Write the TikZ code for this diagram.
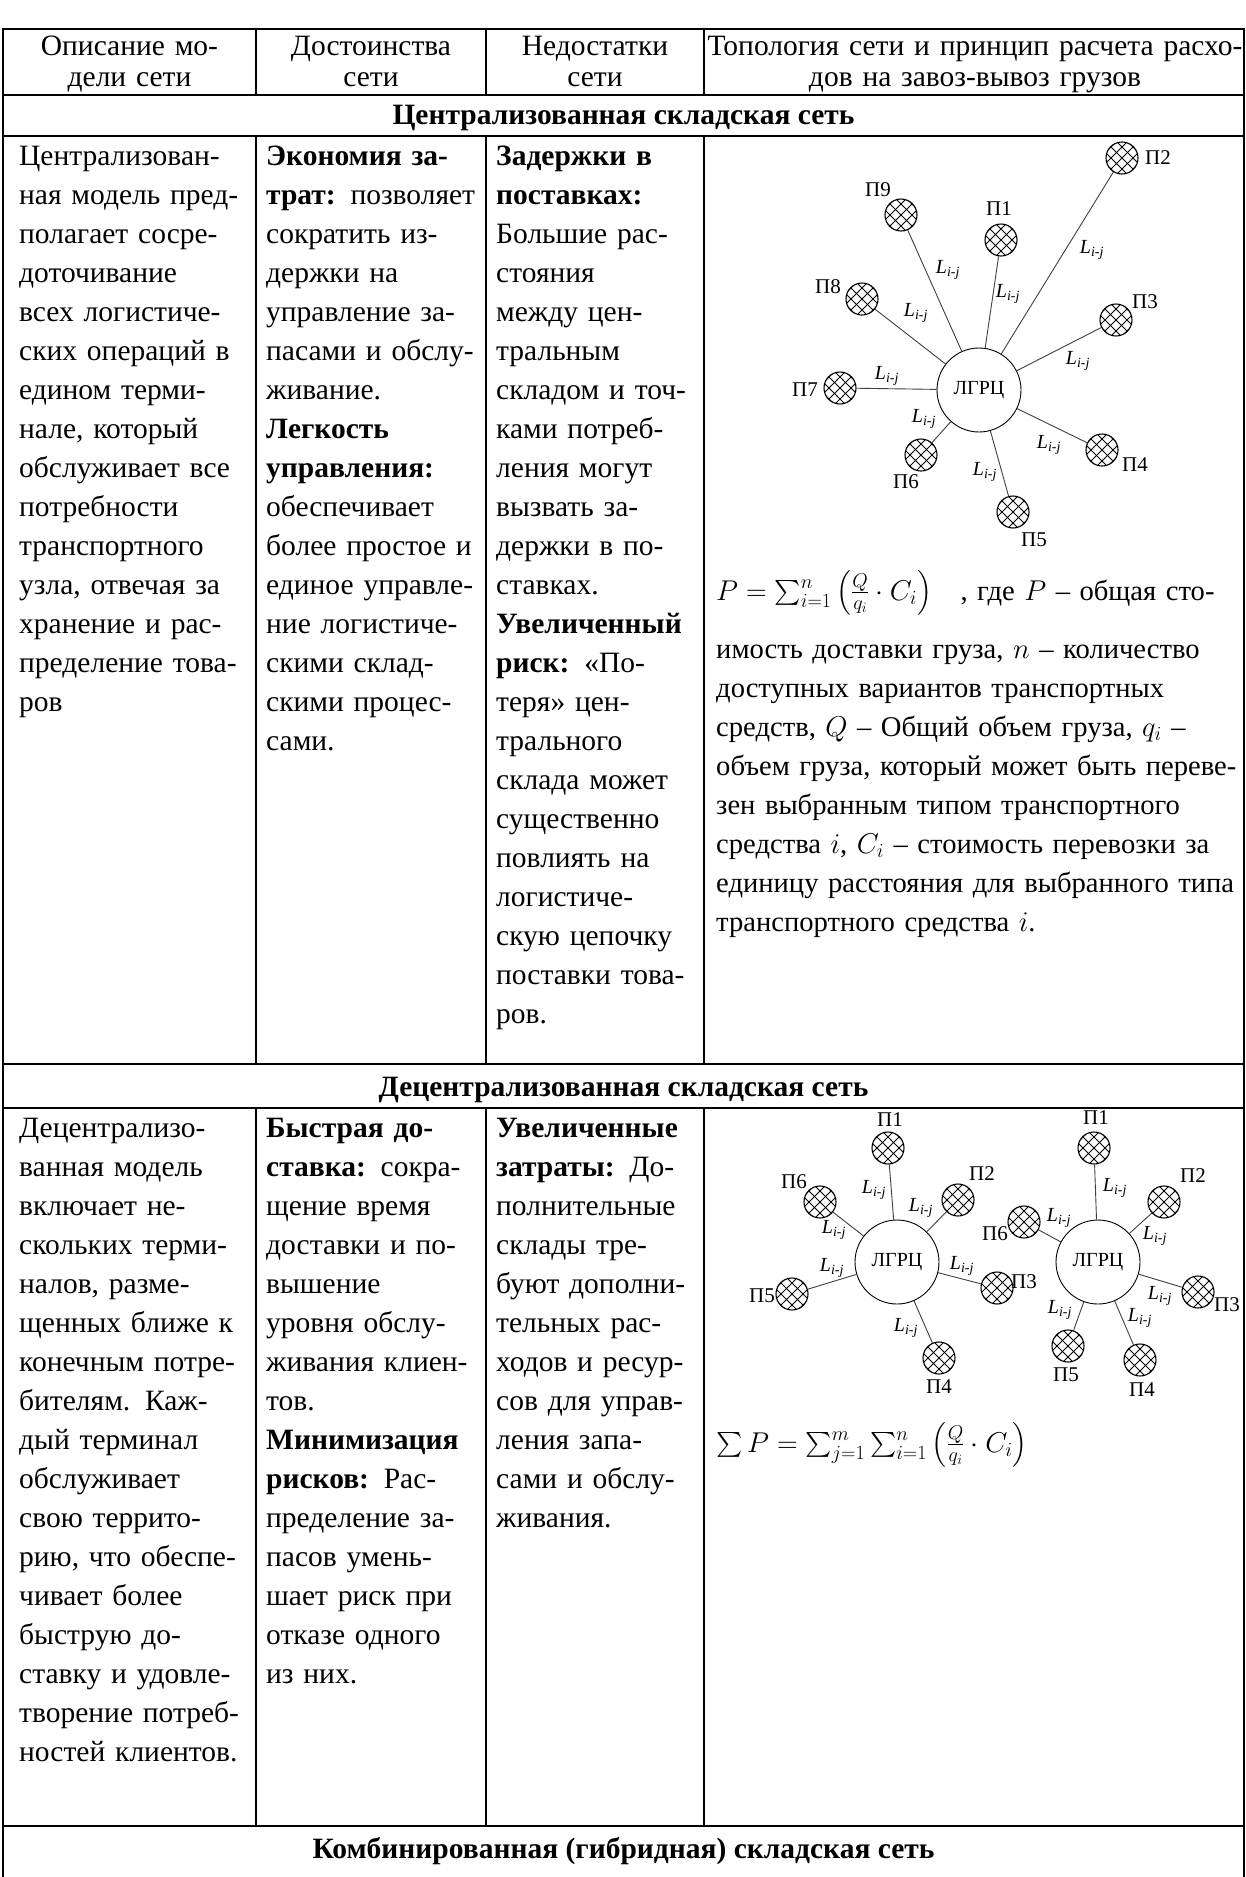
\RequirePackage{fix-cm}
\documentclass[tikz,border=0pt]{standalone}
\usepackage{amsmath}
\usepackage{fontspec}
\setmainfont{Liberation Serif}
\newcommand\J[1]{\makebox[\linewidth][s]{#1}}
\begin{document}
\begin{tikzpicture}[x=1pt,y=-1pt,
  hrule/.style={line width=2.8pt},
  vrule/.style={line width=1.8pt},
  cell/.style={anchor=base west, inner sep=0pt, align=left, font=\fontsize{29.5}{39}\selectfont},
  widecell/.style={cell, font=\fontsize{28.6}{39}\selectfont},
  headcell/.style={anchor=base, inner sep=0pt, align=center, font=\fontsize{29.5}{31}\selectfont},
  sectitle/.style={anchor=base, inner sep=0pt, font=\fontsize{29.5}{31}\selectfont\bfseries},
  hub/.style={circle, draw, line width=0.9pt, minimum size=84pt, inner sep=0pt, font=\fontsize{20}{20}\selectfont},
  pnode/.style={circle, draw, line width=1.1pt, minimum size=32pt, inner sep=0pt,
    path picture={
      \foreach \k in {-44,-33,...,44}{
        \draw[line width=0.8pt] ([shift={(\k-24,-24)}]path picture bounding box.center) -- ++(48,48);
        \draw[line width=0.8pt] ([shift={(\k+24,-24)}]path picture bounding box.center) -- ++(-48,48);
      }}},
  plabel/.style={inner sep=0pt, font=\fontsize{21}{21}\selectfont},
  llabel/.style={inner sep=0pt, font=\fontsize{20}{20}\selectfont\itshape},
  link/.style={draw=black!75, line width=0.9pt}
]
\useasboundingbox (0,0) rectangle (1246,1877);
\fill[white] (0,0) rectangle (1246,1877);

% ---------- table rules ----------
\foreach \yy in {29,95,136,1064,1108,1826}
  \draw[hrule] (2,\yy) -- (1245,\yy);
\draw[vrule] (3,28) -- (3,1877);
\draw[vrule] (1244,28) -- (1244,1877);
\foreach \xx in {256,486,704}{
  \draw[vrule] (\xx,29) -- (\xx,95);
  \draw[vrule] (\xx,136) -- (\xx,1064);
  \draw[vrule] (\xx,1108) -- (\xx,1826);
}

% ---------- header ----------
\node[headcell, text width=245pt] (h1) at (129.5,55) {Описание мо-\\дели сети};
\node[headcell, text width=225pt] (h2) at (371,55) {Достоинства\\сети};
\node[headcell, text width=212pt] (h3) at (595,55) {Недостатки\\сети};
\node[headcell, text width=560pt] (h4) at (975,55) {Топология сети и принцип расчета расхо-\\дов на завоз-вывоз грузов};

\node[sectitle] (s1) at (623.5,124) {Централизованная складская сеть};
\node[sectitle] (s2) at (623.5,1096) {Децентрализованная складская сеть};
\node[sectitle] (s3) at (623.5,1858) {Комбинированная (гибридная) складская сеть};

% ---------- centralized network: text ----------
\node[cell, text width=222pt] (a1) at (19,165) {%
Централизован-\\
\J{ная модель пред-}\\
\J{полагает сосре-}\\
доточивание\\
\J{всех логистиче-}\\
\J{ских операций в}\\
\J{едином терми-}\\
\J{нале, который}\\
\J{обслуживает все}\\
потребности\\
транспортного\\
\J{узла, отвечая за}\\
\J{хранение и рас-}\\
\J{пределение това-}\\
ров};

\node[cell, text width=207pt] (a2) at (266,165) {%
\J{\textbf{Экономия за-}}\\
\J{\textbf{трат:} позволяет}\\
\J{сократить из-}\\
\J{держки на}\\
\J{управление за-}\\
\J{пасами и обслу-}\\
живание.\\
\textbf{Легкость}\\
\textbf{управления:}\\
обеспечивает\\
\J{более простое и}\\
\J{единое управле-}\\
\J{ние логистиче-}\\
\J{скими склад-}\\
\J{скими процес-}\\
сами.};

\node[cell, text width=205pt] (a3) at (496,165) {%
\textbf{Задержки в}\\
\textbf{поставках:}\\
Большие рас-\\
стояния\\
между цен-\\
тральным\\
складом и точ-\\
ками потреб-\\
ления могут\\
вызвать за-\\
держки в по-\\
ставках.\\
\textbf{Увеличенный}\\
\textbf{риск:} «По-\\
теря» цен-\\
трального\\
склада может\\
существенно\\
повлиять на\\
логистиче-\\
скую цепочку\\
поставки това-\\
ров.};

% ---------- centralized network: star ----------
\node[hub] (c) at (979,390) {ЛГРЦ};
\node[pnode] (p1) at (1001,240) {};
\node[pnode] (p2) at (1122,158) {};
\node[pnode] (p3) at (1116,320) {};
\node[pnode] (p4) at (1102,450) {};
\node[pnode] (p5) at (1013,512) {};
\node[pnode] (p6) at (921,455) {};
\node[pnode] (p7) at (840,388) {};
\node[pnode] (p8) at (862,299) {};
\node[pnode] (p9) at (901,215) {};
\foreach \i in {1,...,9} \draw[link] (c) -- (p\i);
\node[plabel] (lp1) at (999,209) {П1};
\node[plabel] (lp2) at (1158,158) {П2};
\node[plabel] (lp3) at (1145,302) {П3};
\node[plabel] (lp4) at (1135,465) {П4};
\node[plabel] (lp5) at (1034,540) {П5};
\node[plabel] (lp6) at (906,482) {П6};
\node[plabel] (lp7) at (805,390) {П7};
\node[plabel] (lp8) at (828,287) {П8};
\node[plabel] (lp9) at (878,190) {П9};
\node[llabel] (e9) at (948,270) {L\textsubscript{i-j}};
\node[llabel] (e1) at (1008,294) {L\textsubscript{i-j}};
\node[llabel] (e2) at (1092,250) {L\textsubscript{i-j}};
\node[llabel] (e8) at (916,313) {L\textsubscript{i-j}};
\node[llabel] (e3) at (1078,361) {L\textsubscript{i-j}};
\node[llabel] (e7) at (887,376) {L\textsubscript{i-j}};
\node[llabel] (e6) at (924,419) {L\textsubscript{i-j}};
\node[llabel] (e4) at (1049,445) {L\textsubscript{i-j}};
\node[llabel] (e5) at (985,472) {L\textsubscript{i-j}};

% ---------- centralized network: cost formula ----------
\node[widecell, text width=524pt] (f1) at (716,600) {%
\J{\mbox{$P=\sum_{i=1}^{n}\left(\frac{Q}{q_i}\cdot C_i\right)$}\ \ \ , где $P$ – общая сто-}};
\node[widecell, text width=524pt] (t1) at (716,658) {%
\J{имость доставки груза, $n$ – количество}\\
\J{доступных вариантов транспортных}\\
\J{средств, $Q$ – Общий объем груза, $q_i$ –}\\
\J{объем груза, который может быть переве-}\\
\J{зен выбранным типом транспортного}\\
\J{средства $i$, $C_i$ – стоимость перевозки за}\\
\J{единицу расстояния для выбранного типа}\\
транспортного средства $i$.};

% ---------- decentralized network: text ----------
\node[cell, text width=222pt] (b1) at (19,1137) {%
Децентрализо-\\
\J{ванная модель}\\
\J{включает не-}\\
\J{скольких терми-}\\
\J{налов, разме-}\\
\J{щенных ближе к}\\
\J{конечным потре-}\\
\J{бителям. Каж-}\\
\J{дый терминал}\\
обслуживает\\
\J{свою террито-}\\
\J{рию, что обеспе-}\\
\J{чивает более}\\
\J{быструю до-}\\
\J{ставку и удовле-}\\
\J{творение потреб-}\\
ностей клиентов.};

\node[cell, text width=207pt] (b2) at (266,1137) {%
\J{\textbf{Быстрая до-}}\\
\J{\textbf{ставка:} сокра-}\\
\J{щение время}\\
\J{доставки и по-}\\
вышение\\
\J{уровня обслу-}\\
\J{живания клиен-}\\
тов.\\
\textbf{Минимизация}\\
\J{\textbf{рисков:} Рас-}\\
\J{пределение за-}\\
\J{пасов умень-}\\
\J{шает риск при}\\
\J{отказе одного}\\
из них.};

\node[cell, text width=196pt] (b3) at (496,1137) {%
\textbf{Увеличенные}\\
\J{\textbf{затраты:} До-}\\
полнительные\\
\J{склады тре-}\\
\J{буют дополни-}\\
\J{тельных рас-}\\
\J{ходов и ресур-}\\
\J{сов для управ-}\\
\J{ления запа-}\\
\J{сами и обслу-}\\
живания.};

% ---------- decentralized network: two stars ----------
\node[hub] (dl) at (897,1262) {ЛГРЦ};
\node[pnode] (l1) at (888,1148) {};
\node[pnode] (l2) at (958,1200) {};
\node[pnode] (l3) at (997,1288) {};
\node[pnode] (l4) at (939,1358) {};
\node[pnode] (l5) at (792,1294) {};
\node[pnode] (l6) at (820,1202) {};
\foreach \i in {1,...,6} \draw[link] (dl) -- (l\i);
\node[plabel] (ll1) at (890,1120) {П1};
\node[plabel] (ll2) at (982,1174) {П2};
\node[plabel] (ll3) at (1024,1282) {П3};
\node[plabel] (ll4) at (939,1387) {П4};
\node[plabel] (ll5) at (762,1296) {П5};
\node[plabel] (ll6) at (794,1182) {П6};
\node[llabel] (m1) at (874,1190) {L\textsubscript{i-j}};
\node[llabel] (m2) at (921,1208) {L\textsubscript{i-j}};
\node[llabel] (m6) at (834,1230) {L\textsubscript{i-j}};
\node[llabel] (m3) at (962,1266) {L\textsubscript{i-j}};
\node[llabel] (m5) at (832,1268) {L\textsubscript{i-j}};
\node[llabel] (m4) at (906,1328) {L\textsubscript{i-j}};

\node[hub] (dr) at (1098,1262) {ЛГРЦ};
\node[pnode] (r1) at (1094,1148) {};
\node[pnode] (r2) at (1164,1202) {};
\node[pnode] (r3) at (1198,1292) {};
\node[pnode] (r4) at (1140,1360) {};
\node[pnode] (r5) at (1068,1346) {};
\node[pnode] (r6) at (1024,1222) {};
\foreach \i in {1,...,6} \draw[link] (dr) -- (r\i);
\node[plabel] (rl1) at (1096,1118) {П1};
\node[plabel] (rl2) at (1193,1176) {П2};
\node[plabel] (rl3) at (1227,1305) {П3};
\node[plabel] (rl4) at (1142,1390) {П4};
\node[plabel] (rl5) at (1066,1375) {П5};
\node[plabel] (rl6) at (995,1234) {П6};
\node[llabel] (n1) at (1115,1188) {L\textsubscript{i-j}};
\node[llabel] (n6) at (1059,1218) {L\textsubscript{i-j}};
\node[llabel] (n2) at (1155,1236) {L\textsubscript{i-j}};
\node[llabel] (n3) at (1160,1296) {L\textsubscript{i-j}};
\node[llabel] (n5) at (1060,1310) {L\textsubscript{i-j}};
\node[llabel] (n4) at (1140,1318) {L\textsubscript{i-j}};

% ---------- decentralized network: cost formula ----------
\node[widecell] (f2) at (716,1452) {$\sum P=\sum_{j=1}^{m}\sum_{i=1}^{n}\left(\frac{Q}{q_i}\cdot C_i\right)$};
\end{tikzpicture}
\end{document}
